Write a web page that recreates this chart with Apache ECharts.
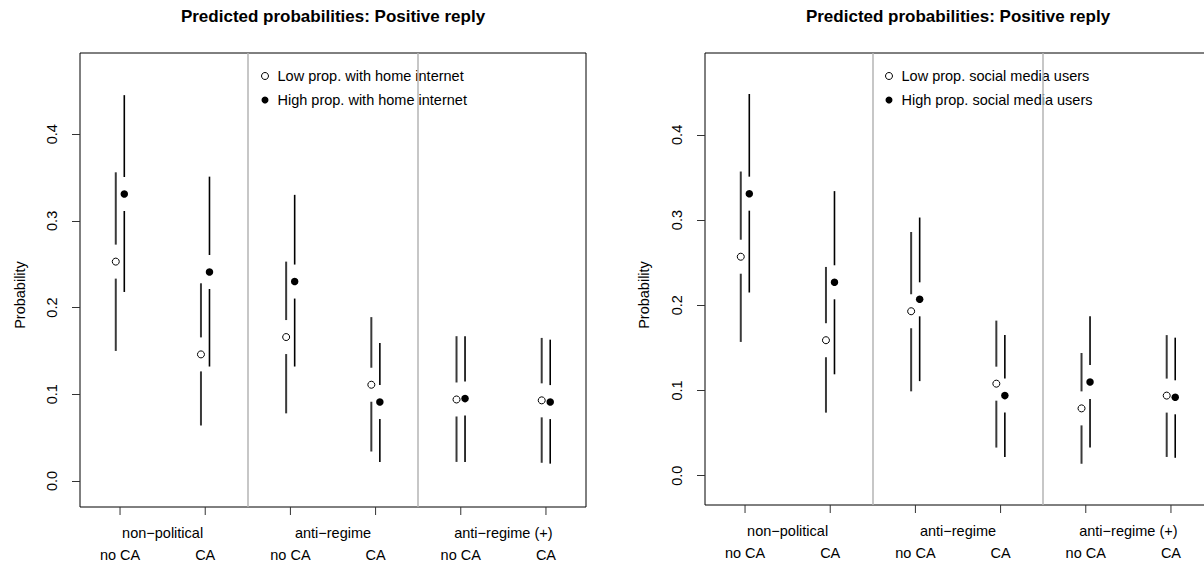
<!DOCTYPE html>
<html>
<head>
<meta charset="utf-8">
<script src="https://cdn.jsdelivr.net/npm/echarts@6/dist/echarts.min.js"></script>
<style>
  html, body { margin: 0; padding: 0; background: #fff; }
  #chart { width: 1204px; height: 561px; }
</style>
</head>
<body>
<div id="chart"></div>
<script>
const FONT = "'Liberation Sans', Arial, Helvetica, sans-serif";

// positions of the six conditions on the x axis
const positions = [1, 2, 3, 4, 5, 6];
const conditionLabels = ["no CA", "CA", "no CA", "CA", "no CA", "CA"];
const groupPositions = [1.5, 3.5, 5.5];
const groupLabels = ["non\u2212political", "anti\u2212regime", "anti\u2212regime (+)"];
const yTicks = [0, 0.1, 0.2, 0.3, 0.4];

// left panel: home internet
const internetLow = [0.253, 0.146, 0.166, 0.111, 0.094, 0.093];
const internetLowLower = [0.150, 0.064, 0.078, 0.034, 0.022, 0.021];
const internetLowUpper = [0.356, 0.228, 0.253, 0.189, 0.167, 0.165];
const internetHigh = [0.331, 0.241, 0.230, 0.091, 0.095, 0.091];
const internetHighLower = [0.218, 0.132, 0.132, 0.022, 0.022, 0.020];
const internetHighUpper = [0.445, 0.351, 0.330, 0.159, 0.167, 0.163];

// right panel: social media
const socialLow = [0.257, 0.159, 0.193, 0.108, 0.079, 0.094];
const socialLowLower = [0.157, 0.074, 0.099, 0.033, 0.014, 0.022];
const socialLowUpper = [0.357, 0.245, 0.286, 0.182, 0.144, 0.165];
const socialHigh = [0.331, 0.227, 0.207, 0.094, 0.110, 0.092];
const socialHighLower = [0.215, 0.119, 0.111, 0.022, 0.033, 0.021];
const socialHighUpper = [0.448, 0.334, 0.303, 0.165, 0.187, 0.162];

const OFFSET = 0.05;
const GAP = 17;
const TICK = 8;

const chart = echarts.init(document.getElementById("chart"), null, { renderer: "svg" });

function barData(values, lower, upper, shift) {
  return positions.map((p, i) => [p + shift, values[i], lower[i], upper[i]]);
}

function pointData(values, shift) {
  return positions.map((p, i) => [p + shift, values[i]]);
}

// interval line with a gap around the point
function barRenderer(color, width) {
  return function (params, api) {
    const x = api.value(0);
    const p = api.coord([x, api.value(1)]);
    const lo = api.coord([x, api.value(2)]);
    const hi = api.coord([x, api.value(3)]);
    const style = { stroke: color, lineWidth: width };
    return {
      type: "group",
      children: [
        { type: "line", shape: { x1: p[0], y1: hi[1], x2: p[0], y2: p[1] - GAP }, style },
        { type: "line", shape: { x1: p[0], y1: p[1] + GAP, x2: p[0], y2: lo[1] }, style }
      ]
    };
  };
}

// x tick marks hanging below the plot box
function tickRenderer(params, api) {
  const p = api.coord([api.value(0), 0]);
  const cs = params.coordSys;
  const bottom = cs.y + cs.height;
  return {
    type: "line",
    shape: { x1: p[0], y1: bottom, x2: p[0], y2: bottom + TICK },
    style: { stroke: "#333", lineWidth: 1 }
  };
}

function makeAxes(index, yMin, yMax) {
  const xMain = {
    type: "value", gridIndex: index, min: 0.53, max: 6.47, position: "bottom",
    axisLine: { show: false, onZero: false },
    splitLine: { show: false },
    axisTick: { show: false },
    axisLabel: {
      customValues: positions, margin: 40,
      fontFamily: FONT, fontSize: 14.5, color: "#000",
      formatter: (v) => conditionLabels[Math.round(v) - 1]
    }
  };
  const xGroup = {
    type: "value", gridIndex: index, min: 0.53, max: 6.47, position: "bottom",
    axisLine: { show: false, onZero: false },
    splitLine: { show: false },
    axisTick: { show: false },
    axisLabel: {
      customValues: groupPositions, margin: 18,
      fontFamily: FONT, fontSize: 14.5, color: "#000",
      formatter: (v) => groupLabels[Math.round((v - 1.5) / 2)]
    }
  };
  const y = {
    type: "value", gridIndex: index, min: yMin, max: yMax,
    axisLine: { show: false, onZero: false },
    splitLine: { show: false },
    axisTick: { show: true, length: TICK, customValues: yTicks, lineStyle: { color: "#333", width: 1 } },
    axisLabel: {
      customValues: yTicks, rotate: 90, margin: 21,
      fontFamily: FONT, fontSize: 14.5, color: "#000",
      formatter: (v) => v.toFixed(1)
    }
  };
  return { x: [xMain, xGroup], y };
}

function makeSeries(index, names, low, lowLo, lowHi, high, highLo, highHi) {
  const xi = index * 2;
  return [
    {
      name: "ticks " + index, type: "custom", xAxisIndex: xi, yAxisIndex: index,
      renderItem: tickRenderer, encode: { x: 0, y: 1 },
      data: positions.map((p) => [p, 0]), clip: false, silent: true
    },
    {
      name: names[0] + " bars", type: "custom", xAxisIndex: xi, yAxisIndex: index,
      renderItem: barRenderer("#3a3a3a", 2), encode: { x: 0, y: [1, 2, 3] },
      data: barData(low, lowLo, lowHi, -OFFSET), silent: true,
      markLine: {
        silent: true, symbol: "none", label: { show: false },
        lineStyle: { color: "#b4b4b4", type: "solid", width: 1.5 },
        data: [{ xAxis: 2.5 }, { xAxis: 4.5 }]
      }
    },
    {
      name: names[1] + " bars", type: "custom", xAxisIndex: xi, yAxisIndex: index,
      renderItem: barRenderer("#000", 1.6), encode: { x: 0, y: [1, 2, 3] },
      data: barData(high, highLo, highHi, OFFSET), silent: true
    },
    {
      name: names[0], type: "scatter", xAxisIndex: xi, yAxisIndex: index,
      symbol: "circle", symbolSize: 7,
      itemStyle: { color: "#fff", borderColor: "#000", borderWidth: 1, opacity: 1 },
      data: pointData(low, -OFFSET), silent: true, z: 5
    },
    {
      name: names[1], type: "scatter", xAxisIndex: xi, yAxisIndex: index,
      symbol: "circle", symbolSize: 7.5,
      itemStyle: { color: "#000", opacity: 1 },
      data: pointData(high, OFFSET), silent: true, z: 5
    }
  ];
}

const internetNames = ["Low prop. with home internet", "High prop. with home internet"];
const socialNames = ["Low prop. social media users", "High prop. social media users"];

const axesLeft = makeAxes(0, -0.030, 0.4936);
const axesRight = makeAxes(1, -0.0344, 0.4961);

function legendFor(names, left) {
  return {
    orient: "vertical", left: left, top: 68.5, padding: 0,
    itemGap: 9, itemWidth: 7, itemHeight: 7, selectedMode: false,
    textStyle: { fontFamily: FONT, fontSize: 14.5, color: "#000", padding: [0, 0, 0, 4] },
    data: [
      { name: names[0], icon: "circle", itemStyle: { color: "#fff", borderColor: "#000", borderWidth: 1 } },
      { name: names[1], icon: "circle", itemStyle: { color: "#000", borderWidth: 0 } }
    ]
  };
}

const titleStyle = { fontFamily: FONT, fontSize: 17, fontWeight: "bold", color: "#000" };
const ylabStyle = { text: "Probability", fontFamily: FONT, fontSize: 14.5, fill: "#000", align: "center", verticalAlign: "middle" };

chart.setOption({
  animation: false,
  backgroundColor: "#fff",
  title: [
    { text: "Predicted probabilities: Positive reply", left: 333, top: 8, padding: 0, textAlign: "center", textStyle: titleStyle },
    { text: "Predicted probabilities: Positive reply", left: 958, top: 8, padding: 0, textAlign: "center", textStyle: titleStyle }
  ],
  legend: [legendFor(internetNames, 261), legendFor(socialNames, 885)],
  grid: [
    { left: 80, top: 53, width: 506, height: 454, outerBoundsMode: "none", containLabel: false,
      show: true, borderColor: "#000", borderWidth: 1, backgroundColor: "transparent" },
    { left: 705, top: 53, width: 506, height: 452, outerBoundsMode: "none", containLabel: false,
      show: true, borderColor: "#000", borderWidth: 1, backgroundColor: "transparent" }
  ],
  xAxis: [...axesLeft.x, ...axesRight.x],
  yAxis: [axesLeft.y, axesRight.y],
  graphic: [
    { type: "text", x: 19.5, y: 295, rotation: Math.PI / 2, style: ylabStyle },
    { type: "text", x: 644, y: 295, rotation: Math.PI / 2, style: ylabStyle }
  ],
  series: [
    ...makeSeries(0, internetNames, internetLow, internetLowLower, internetLowUpper,
      internetHigh, internetHighLower, internetHighUpper),
    ...makeSeries(1, socialNames, socialLow, socialLowLower, socialLowUpper,
      socialHigh, socialHighLower, socialHighUpper)
  ]
});
</script>
</body>
</html>
